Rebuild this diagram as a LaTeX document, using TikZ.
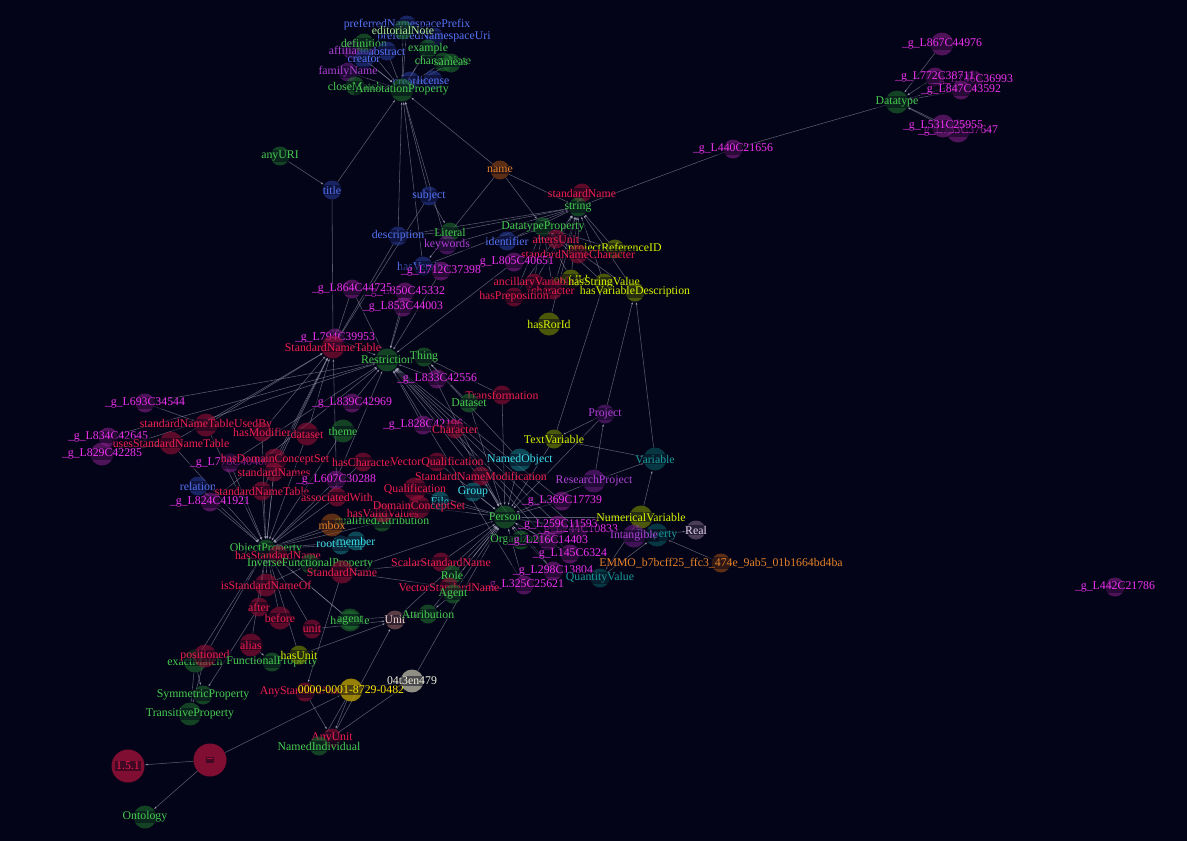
\documentclass[tikz,border=0pt]{standalone}
\usepackage{fontspec}
\setmainfont{Liberation Serif}
\usetikzlibrary{arrows.meta}

\definecolor{bgc}{RGB}{4,4,24}
\definecolor{edgec}{RGB}{160,160,180}
\definecolor{gcirc}{RGB}{30,110,45}   \definecolor{gtext}{RGB}{70,205,80}
\definecolor{rcirc}{RGB}{150,15,55}   \definecolor{rtext}{RGB}{240,30,80}
\definecolor{mcirc}{RGB}{130,30,135}  \definecolor{mtext}{RGB}{240,50,240}
\definecolor{bcirc}{RGB}{40,60,150}   \definecolor{btext}{RGB}{85,115,245}
\definecolor{ycirc}{RGB}{125,145,0}   \definecolor{ytext}{RGB}{215,245,0}
\definecolor{ccirc}{RGB}{20,120,130}  \definecolor{ctext}{RGB}{60,225,235}
\definecolor{ocirc}{RGB}{150,75,20}   \definecolor{otext}{RGB}{230,130,40}
\definecolor{pcirc}{RGB}{105,30,130}  \definecolor{ptext}{RGB}{175,65,215}
\definecolor{tcirc}{RGB}{10,90,95}    \definecolor{ttext}{RGB}{25,155,155}
\definecolor{lcirc}{RGB}{120,100,130} \definecolor{ltext}{RGB}{230,210,240}
\definecolor{wcirc}{RGB}{190,190,170} \definecolor{wtext}{RGB}{245,245,225}
\definecolor{ucirc}{RGB}{200,170,0}   \definecolor{utext}{RGB}{255,230,0}
\definecolor{kcirc}{RGB}{150,100,100} \definecolor{ktext}{RGB}{250,215,215}
\definecolor{etext}{RGB}{170,235,150}

\newcommand{\lblfont}{\fontsize{11.8}{12}\selectfont}
\pgfdeclarelayer{back}
\pgfdeclarelayer{edges}
\pgfsetlayers{back,edges,main}

\begin{document}
\begin{tikzpicture}[x=1pt, y=-1pt,
		dot/.style={circle, inner sep=0pt, minimum size=19pt, fill opacity=.6},
		hub/.style={minimum size=23pt},
		big/.style={minimum size=33pt, fill opacity=.85},
		lbl/.style={font=\lblfont, inner sep=1pt, fill=bgc, fill opacity=.5, text opacity=1},
		gn/.style={dot, fill=gcirc, label={[lbl, text=gtext]center:#1}},
		en/.style={dot, fill=gcirc, label={[lbl, text=etext]center:#1}},
		rn/.style={dot, fill=rcirc, label={[lbl, text=rtext]center:#1}},
		bn/.style={dot, fill=mcirc, label={[lbl, text=mtext]center:#1}},
		un/.style={dot, fill=bcirc, label={[lbl, text=btext]center:#1}},
		yn/.style={dot, fill=ycirc, label={[lbl, text=ytext]center:#1}},
		cn/.style={dot, fill=ccirc, label={[lbl, text=ctext]center:#1}},
		on/.style={dot, fill=ocirc, label={[lbl, text=otext]center:#1}},
		pn/.style={dot, fill=pcirc, label={[lbl, text=ptext]center:#1}},
		tn/.style={dot, fill=tcirc, label={[lbl, text=ttext]center:#1}},
		ln/.style={dot, fill=lcirc, label={[lbl, text=ltext]center:#1}},
		wn/.style={dot, fill=wcirc, label={[lbl, text=wtext]center:#1}},
		kn/.style={dot, fill=kcirc, label={[lbl, text=ktext]center:#1}},
		orn/.style={dot, fill=ucirc, label={[lbl, text=utext]center:#1}},
		edge/.style={draw=edgec, draw opacity=.55, line width=.55pt, -{Latex[length=3pt, width=2.2pt]}}]
		\begin{pgfonlayer}{back}
			\fill[bgc] (0,0) rectangle (1187,841);
		\end{pgfonlayer}
		\useasboundingbox (0,0) rectangle (1187,841);
		% Nodes: annotation properties
		\node[pn=affiliation] (affiliation) at (352,50) {};
		\node[un=preferredNamespacePrefix] (prefNsPrefix) at (407,25) {};
		\node[un=preferredNamespaceUri] (prefNsUri) at (434,37) {};
		\node[en=editorialNote] (edNote) at (403,30) {};
		\node[gn=definition] (definition) at (364,43) {};
		\node[un=abstract] (abstract) at (387,51) {};
		\node[gn=example] (example) at (428,49) {};
		\node[un=creator] (creator) at (364,59) {};
		\node[gn=changeNote] (changeNote) at (443,62) {};
		\node[gn=sameas] (sameas) at (451,63) {};
		\node[pn=familyName] (familyName) at (348,72) {};
		\node[un=created] (created) at (410,81) {};
		\node[un=license] (license) at (433,80) {};
		\node[gn=closeMatch] (closeMatch) at (355,86) {};
		\node[gn=AnnotationProperty, hub] (annProp) at (402,90) {};
		% Nodes: datatype properties
		\node[gn=anyURI] (anyURI) at (280,156) {};
		\node[un=title] (title) at (332,190) {};
		\node[on=name] (name) at (500,170) {};
		\node[un=subject] (subject) at (429,196) {};
		\node[bn=\_g\_L440C21656] (gL440) at (733,149) {};
		\node[rn=standardName] (stdName) at (582,193) {};
		\node[gn=string] (string) at (578,207) {};
		\node[gn=Literal] (Literal) at (450,232) {};
		\node[un=description] (description) at (398,236) {};
		\node[pn=keywords] (keywords) at (447,245) {};
		\node[gn=DatatypeProperty] (dtProp) at (543,227) {};
		\node[un=identifier] (identifier) at (507,241) {};
		\node[rn=altersUnit] (altersUnit) at (556,239) {};
		\node[yn=projectReferenceID] (projRefID) at (615,249) {};
		\node[rn=standardNameCharacter] (stdNameChar) at (578,254) {};
		\node[bn=\_g\_L805C40651] (gL805) at (514,262) {};
		\node[un=hasVersion] (hasVersion) at (423,266) {};
		\node[bn=\_g\_L712C37398] (gL712) at (441,271) {};
		\node[yn=orcidId] (orcidId) at (571,279) {};
		\node[rn=ancillaryVariable] (ancillary) at (534,283) {};
		\node[yn=hasStringValue] (hasStringValue) at (604,283) {};
		\node[rn=character] (character) at (553,290) {};
		\node[yn=hasVariableDescription] (hasVarDesc) at (635,292) {};
		\node[rn=hasPreposition] (hasPrep) at (514,297) {};
		\node[yn=hasRorId, hub] (hasRorId) at (549,324) {};
		% Nodes: restrictions and classes
		\node[bn=\_g\_L850C45332] (gL850) at (405,292) {};
		\node[bn=\_g\_L864C44725] (gL864) at (352,289) {};
		\node[bn=\_g\_L853C44003] (gL853) at (403,307) {};
		\node[bn=\_g\_L794C39953] (gL794) at (335,338) {};
		\node[rn=StandardNameTable, hub] (stdNameTable) at (333,347) {};
		\node[gn=Restriction, hub] (restriction) at (387,360) {};
		\node[gn=Thing] (thing) at (424,357) {};
		\node[bn=\_g\_L833C42556] (gL833) at (437,379) {};
		\node[rn=Transformation] (transformation) at (502,395) {};
		\node[gn=Dataset] (datasetCls) at (469,403) {};
		\node[bn=\_g\_L839C42969] (gL839) at (352,403) {};
		\node[bn=\_g\_L693C34544] (gL693) at (145,403) {};
		\node[rn=standardNameTableUsedBy, hub] (sntUsedBy) at (206,425) {};
		\node[rn=hasModifier] (hasModifier) at (262,432) {};
		\node[rn=dataset, hub] (dataset) at (307,434) {};
		\node[gn=theme, hub] (theme) at (343,431) {};
		\node[bn=\_g\_L828C42196] (gL828) at (423,425) {};
		\node[rn=Character] (characterCls) at (455,429) {};
		\node[bn=\_g\_L834C42645] (gL834) at (108,437) {};
		\node[rn=usesStandardNameTable, hub] (usesSNT) at (171,443) {};
		\node[bn=\_g\_L829C42285, hub] (gL829) at (102,454) {};
		\node[bn=\_g\_L778C40400] (gL778) at (230,463) {};
		\node[rn=hasDomainConceptSet, hub] (hasDCS) at (275,460) {};
		\node[rn=standardNames] (stdNames) at (274,472) {};
		\node[rn=hasCharacter] (hasCharacter) at (363,462) {};
		\node[rn=VectorQualification] (vectorQual) at (437,462) {};
		\node[yn=TextVariable] (textVar) at (554,439) {};
		\node[cn=NamedObject, hub] (namedObject) at (520,460) {};
		\node[rn=StandardNameModification] (snMod) at (481,476) {};
		\node[bn=\_g\_L607C30288] (gL607) at (336,480) {};
		\node[un=relation] (relation) at (198,486) {};
		\node[rn=standardNameTable] (sntProp) at (262,491) {};
		\node[rn=Qualification, hub] (qualification) at (415,489) {};
		\node[cn=Group] (group) at (473,492) {};
		\node[rn=associatedWith] (associatedWith) at (337,497) {};
		\node[cn=File] (file) at (440,501) {};
		\node[bn=\_g\_L824C41921] (gL824) at (210,502) {};
		\node[gn=qualifiedAttribution] (qualAttr) at (382,522) {};
		\node[rn=hasValidValues] (hasValidValues) at (383,513) {};
		\node[rn=DomainConceptSet, hub] (dcs) at (419,507) {};
		\node[on=mbox, hub] (mbox) at (332,525) {};
		\node[bn=\_g\_L369C17739] (gL369) at (562,501) {};
		\node[gn=Person, hub] (person) at (505,517) {};
		\node[bn=\_g\_L244C10833] (gL244) at (578,530) {};
		\node[bn=\_g\_L259C11593] (gL259) at (558,525) {};
		\node[cn=rootGroup] (rootGroup) at (341,545) {};
		\node[cn=member] (member) at (356,541) {};
		\node[gn=Organization] (organization) at (521,540) {};
		\node[bn=\_g\_L216C14403] (gL216) at (548,541) {};
		\node[bn=\_g\_L145C6324] (gL145) at (570,554) {};
		\node[rn=ScalarStandardName] (scalarSN) at (441,562) {};
		\node[bn=\_g\_L298C13804] (gL298) at (553,571) {};
		\node[gn=Role] (role) at (452,575) {};
		\node[bn=\_g\_L325C25621] (gL325) at (524,585) {};
		\node[rn=VectorStandardName] (vectorSN) at (449,587) {};
		\node[gn=Agent] (agent) at (453,594) {};
		% Nodes: variables
		\node[pn=Project] (project) at (605,414) {};
		\node[tn=Variable, hub] (variable) at (655,459) {};
		\node[pn=ResearchProject, hub] (researchProject) at (594,481) {};
		\node[yn=NumericalVariable, hub] (numVar) at (641,517) {};
		\node[tn=Property, hub] (property) at (657,535) {};
		\node[pn=Intangible, hub] (intangible) at (634,536) {};
		\node[ln=Real] (real) at (696,530) {};
		\node[on=EMMO\_b7bcff25\_ffc3\_474e\_9ab5\_01b1664bd4ba] (emmo) at (721,563) {};
		\node[tn=QuantityValue] (quantityValue) at (600,578) {};
		% Nodes: object properties
		\node[gn=ObjectProperty] (objProp) at (266,549) {};
		\node[rn=hasStandardName] (hasSN) at (278,555) {};
		\node[gn=InverseFunctionalProperty] (invFuncProp) at (310,564) {};
		\node[rn=StandardName, hub] (stdNameCls) at (342,572) {};
		\node[rn=isStandardNameOf, hub] (isSNOf) at (266,585) {};
		\node[rn=after] (after) at (259,607) {};
		\node[rn=before, hub] (before) at (280,618) {};
		\node[rn=unit] (unit) at (312,629) {};
		\node[gn=hadRole, hub] (hadRole) at (350,620) {};
		\node[gn=agent] (agentProp) at (350,620) {};
		\node[kn=Unit] (unitCls) at (395,620) {};
		\node[gn=Attribution] (attribution) at (428,614) {};
		\node[rn=alias, hub] (alias) at (251,645) {};
		\node[gn=exactMatch, hub] (exactMatch) at (195,661) {};
		\node[rn=positioned, hub] (positioned) at (205,656) {};
		\node[gn=FunctionalProperty] (funcProp) at (272,662) {};
		\node[yn=hasUnit] (hasUnit) at (299,655) {};
		\node[gn=SymmetricProperty] (symProp) at (203,695) {};
		\node[gn=TransitiveProperty, hub] (transProp) at (190,714) {};
		\node[rn=AnyStandardName] (anySN) at (305,692) {};
		\node[orn=0000-0001-8729-0482, hub, fill opacity=.75] (orcid) at (351,690) {};
		\node[wn=04t3en479, hub, fill opacity=.75] (ror) at (412,681) {};
		\node[rn=AnyUnit] (anyUnit) at (332,738) {};
		\node[gn=NamedIndividual] (namedInd) at (319,746) {};
		\node[rn=1.5.1, big] (version) at (128,766) {};
		\node[rn=--, big] (ontoDash) at (210,760) {};
		\node[gn=Ontology, hub] (ontology) at (145,817) {};
		% Nodes: datatypes
		\node[bn=\_g\_L867C44976, hub] (gL867) at (942,44) {};
		\node[bn=\_g\_L746C36993] (gL746) at (973,80) {};
		\node[bn=\_g\_L772C38711] (gL772) at (935,77) {};
		\node[bn=\_g\_L847C43592] (gL847) at (961,90) {};
		\node[gn=Datatype, hub] (datatype) at (897,102) {};
		\node[bn=\_g\_L733C37647, hub] (gL733) at (958,131) {};
		\node[bn=\_g\_L531C25955, hub] (gL531) at (943,126) {};
		\node[bn=\_g\_L442C21786] (gL442) at (1115,587) {};
		%Arrows
		\begin{pgfonlayer}{edges}
			\foreach \a/\b in {prefNsPrefix/annProp, edNote/annProp, prefNsUri/annProp, definition/annProp,
				affiliation/annProp, abstract/annProp, example/annProp, creator/annProp, changeNote/annProp,
				sameas/annProp, familyName/annProp, closeMatch/annProp, created/annProp, license/annProp,
				title/annProp, description/annProp, subject/annProp, name/annProp, hasVersion/annProp,
				keywords/annProp, title/stdNameTable, anyURI/title,
				name/string, name/dtProp, name/hasVersion, subject/Literal, subject/stdNameTable,
				stdName/string, gL440/string, datatype/gL440, description/string, keywords/string,
				identifier/string, hasVersion/string, projRefID/string, orcidId/string, hasStringValue/string,
				hasVarDesc/string, altersUnit/string, stdNameChar/string, ancillary/string, character/string,
				hasPrep/string, hasRorId/string, Literal/string, description/Literal,
				altersUnit/dtProp, stdNameChar/dtProp, orcidId/dtProp, hasStringValue/dtProp, hasVarDesc/dtProp,
				projRefID/dtProp, ancillary/dtProp, hasPrep/dtProp, character/dtProp, identifier/dtProp,
				gL867/datatype, gL772/datatype, gL746/datatype, gL847/datatype, gL531/datatype, gL733/datatype,
				gL864/restriction, gL850/restriction, gL853/restriction, gL794/restriction, gL833/restriction,
				gL839/restriction, gL828/restriction, gL693/restriction, gL834/restriction, gL829/restriction,
				gL778/restriction, gL607/restriction, gL824/restriction, gL805/restriction, gL712/restriction,
				gL369/restriction, gL259/restriction, gL216/restriction, gL145/restriction, gL298/restriction,
				gL325/restriction, gL244/restriction, restriction/thing, description/stdNameTable,
				usesSNT/stdNameTable, sntUsedBy/stdNameTable, hasDCS/stdNameTable, stdNames/stdNameTable,
				sntProp/stdNameTable, dataset/stdNameTable, hasModifier/stdNameTable, associatedWith/stdNameTable,
				gL864/stdNameTable, gL794/stdNameTable, gL693/sntUsedBy, gL834/usesSNT, gL829/usesSNT,
				usesSNT/objProp, sntUsedBy/objProp, hasDCS/objProp, stdNames/objProp, sntProp/objProp,
				relation/objProp, hasModifier/objProp, dataset/objProp, associatedWith/objProp,
				hasCharacter/objProp, hasValidValues/objProp, qualAttr/objProp, mbox/objProp, member/objProp,
				rootGroup/objProp, hasSN/objProp, isSNOf/objProp, after/objProp, before/objProp, unit/objProp,
				alias/objProp, hasUnit/objProp, positioned/objProp, agentProp/objProp, hadRole/objProp,
				theme/objProp, exactMatch/objProp, gL824/objProp, gL778/objProp, gL607/objProp,
				hasSN/invFuncProp, isSNOf/invFuncProp, hasUnit/funcProp, positioned/funcProp, alias/funcProp,
				exactMatch/symProp, exactMatch/transProp, positioned/transProp, after/symProp,
				organization/person, group/person, gL369/person, gL259/person, gL244/person, gL216/person,
				gL145/person, gL298/person, gL325/person, namedObject/person, textVar/person,
				datasetCls/person, transformation/person, characterCls/person, researchProject/person,
				snMod/person, qualification/person, dcs/person, file/person, vectorQual/person,
				scalarSN/person, vectorSN/person, role/person, agent/person, thing/person, stdNameCls/person,
				numVar/person, project/person, namedObject/thing, datasetCls/thing, transformation/thing,
				textVar/variable, numVar/variable, researchProject/project, project/hasVarDesc,
				variable/hasVarDesc, textVar/hasStringValue, project/textVar, researchProject/variable,
				numVar/quantityValue, property/real, emmo/property, quantityValue/property, intangible/numVar,
				orcid/ror, orcid/anyUnit, anySN/anyUnit, anyUnit/namedInd, orcid/namedInd, ror/namedInd,
				ontoDash/version, ontoDash/ontology, ontoDash/orcid, unitCls/attribution, agentProp/attribution,
				unit/unitCls, stdNameCls/anySN, scalarSN/stdNameCls, vectorSN/stdNameCls, ror/person,
				hasUnit/unitCls, attribution/person, agent/attribution, unitCls/person, anyUnit/unitCls}
				\draw[edge] (\a) -- (\b);
		\end{pgfonlayer}
	\end{tikzpicture}
\end{document}
